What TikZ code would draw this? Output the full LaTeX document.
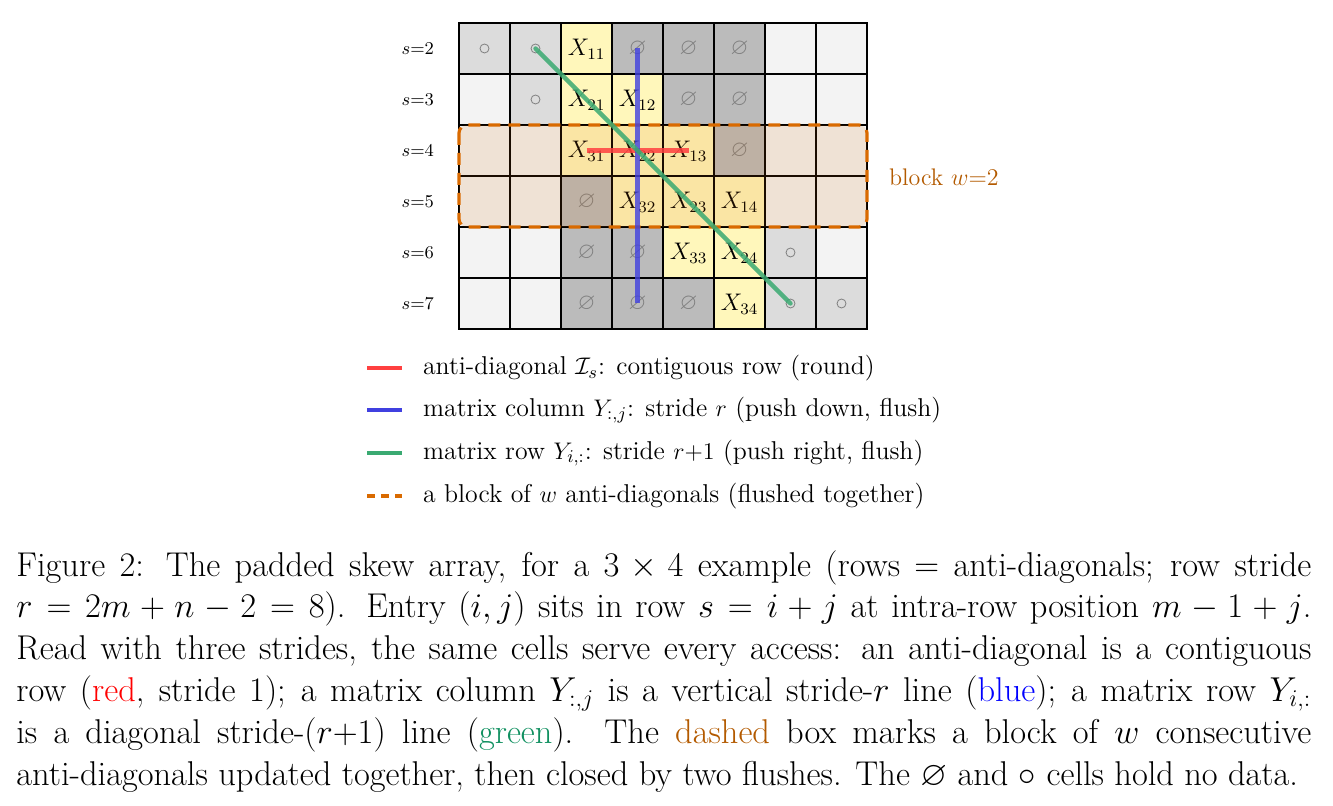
\documentclass[tikz,border=0pt]{standalone}
\usepackage{amsmath,amssymb}
\usetikzlibrary{calc}
\definecolor{cw}{HTML}{F3F3F3}
\definecolor{cl}{HTML}{DCDCDC}
\definecolor{cd}{HTML}{BBBBBB}
\definecolor{cy}{HTML}{FFF7BB}
\definecolor{bor}{HTML}{D96A00}
\definecolor{btxt}{HTML}{B35A00}
\definecolor{lred}{HTML}{FF4040}
\definecolor{lblue}{HTML}{4040E0}
\definecolor{lgreen}{HTML}{3AAA72}
\definecolor{tgreen}{HTML}{109060}
\begin{document}
\begin{tikzpicture}[x=0.5pt,y=-0.5pt,
  cell/.style={draw=black,line width=0.6pt,minimum width=25.5pt,minimum height=25.5pt,inner sep=0pt,anchor=center},
  emp/.style={text=gray},
  slab/.style={font=\fontsize{9}{10}\selectfont},
  leg/.style={font=\fontsize{12.9}{14}\selectfont,anchor=west}]
\useasboundingbox (0,0) rectangle (1333,806);
\foreach \c/\r/\col/\t in {
 0/0/cl/c,1/0/cl/c,2/0/cy/$X_{11}$,3/0/cd/e,4/0/cd/e,5/0/cd/e,6/0/cw/n,7/0/cw/n,
 0/1/cw/n,1/1/cl/c,2/1/cy/$X_{21}$,3/1/cy/$X_{12}$,4/1/cd/e,5/1/cd/e,6/1/cw/n,7/1/cw/n,
 0/2/cw/n,1/2/cw/n,2/2/cy/$X_{31}$,3/2/cy/$X_{22}$,4/2/cy/$X_{13}$,5/2/cd/e,6/2/cw/n,7/2/cw/n,
 0/3/cw/n,1/3/cw/n,2/3/cd/e,3/3/cy/$X_{32}$,4/3/cy/$X_{23}$,5/3/cy/$X_{14}$,6/3/cw/n,7/3/cw/n,
 0/4/cw/n,1/4/cw/n,2/4/cd/e,3/4/cd/e,4/4/cy/$X_{33}$,5/4/cy/$X_{24}$,6/4/cl/c,7/4/cw/n,
 0/5/cw/n,1/5/cw/n,2/5/cd/e,3/5/cd/e,4/5/cd/e,5/5/cy/$X_{34}$,6/5/cl/c,7/5/cl/c}{
  \node[cell,fill=\col] (c\c\r) at ({484.5+51*\c},{48.5+51*\r}) {};
  \if\t c\draw[gray,line width=0.4pt] (c\c\r.center) circle (4.5);
  \else\if\t e\node[emp,font=\fontsize{11.5}{12}\selectfont] at (c\c\r.center) {$\varnothing$};
  \else\if\t n\else\node[font=\fontsize{11.5}{12}\selectfont] at ($(c\c\r.center)+(0,1)$) {\t};\fi\fi\fi
}
\foreach \r/\s in {0/2,1/3,2/4,3/5,4/6,5/7}
  \node[slab,anchor=east] (s\s) at (441,{48.5+51*\r}) {$s{=}\s$};
% block
\draw[bor,line width=1.6pt,dash pattern=on 6pt off 4pt,rounded corners=4pt,fill=bor,fill opacity=0.12]
  (459,125) rectangle (867,227);
\node[text=btxt,font=\fontsize{12}{14}\selectfont,anchor=west] (blk) at (882,177) {block $w{=}2$};
% lines
\draw[lred,line width=2.2pt,opacity=0.85] (c22.center) -- (c42.center);
\draw[lblue,line width=2.2pt,opacity=0.8] (c30.center) -- (c35.center);
\draw[lgreen,line width=2.2pt,opacity=0.85,line cap=round] (c10.center) -- (c65.center);
% legend
\coordinate (l1a) at (367,368); \coordinate (l1b) at (402,368);
\coordinate (l2a) at (367,410); \coordinate (l2b) at (402,410);
\coordinate (l3a) at (367,453); \coordinate (l3b) at (402,453);
\coordinate (l4a) at (367,496); \coordinate (l4b) at (402,496);
\draw[lred,line width=2pt] (l1a) -- (l1b);
\draw[lblue,line width=2pt] (l2a) -- (l2b);
\draw[lgreen,line width=2pt] (l3a) -- (l3b);
\draw[bor,line width=2pt,dash pattern=on 4pt off 3pt] (l4a) -- (l4b);
\node[leg] (t1) at (416,368) {anti-diagonal $\mathcal{I}_s$: contiguous row (round)};
\node[leg] (t2) at (416,410) {matrix column $Y_{:,j}$: stride $r$ (push down, flush)};
\node[leg] (t3) at (416,453) {matrix row $Y_{i,:}$: stride $r{+}1$ (push right, flush)};
\node[leg] (t4) at (416,496) {a block of $w$ anti-diagonals (flushed together)};
% caption
\node[anchor=north west,inner sep=0pt,text width=647.5pt,align=justify,font=\fontsize{17.2}{20.9}\selectfont] (cap) at (16,550)
{Figure 2: The padded skew array, for a $3\times4$ example (rows = anti-diagonals; row stride\linebreak
$r=2m+n-2=8$). Entry $(i,j)$ sits in row $s=i+j$ at intra-row position $m-1+j$.\linebreak
Read with three strides, the same cells serve every access: an anti-diagonal is a contiguous\linebreak
row ({\color{red}red}, stride 1); a matrix column $Y_{:,j}$ is a vertical stride-$r$ line ({\color{blue}blue}); a matrix row $Y_{i,:}$\linebreak
is a diagonal stride-$(r{+}1)$ line ({\color{tgreen}green}). The {\color{btxt}dashed} box marks a block of $w$ consecutive\linebreak
anti-diagonals updated together, then closed by two flushes. The $\varnothing$ and $\circ$ cells hold no data.};
\end{tikzpicture}
\end{document}
